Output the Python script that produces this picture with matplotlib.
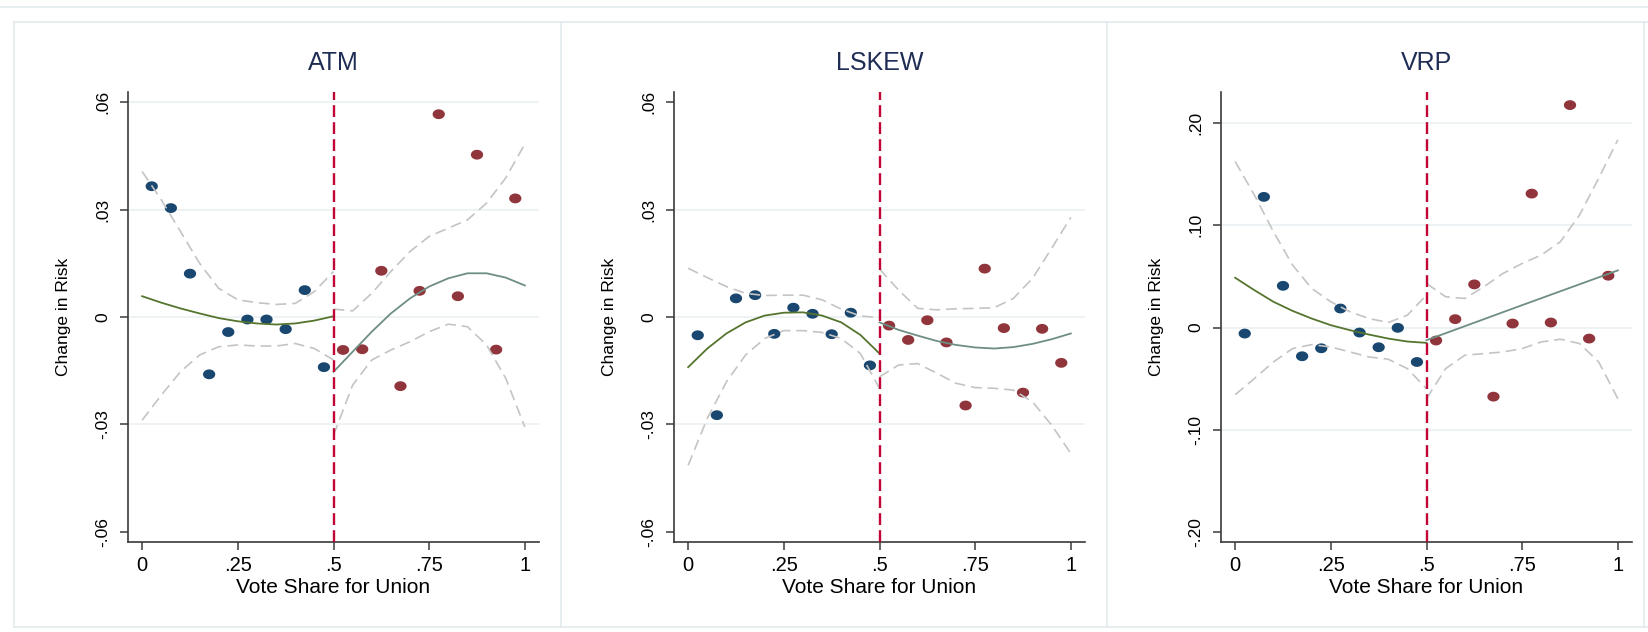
import numpy as np
import matplotlib.pyplot as plt
from matplotlib.lines import Line2D

plt.rcParams['font.family'] = ['Liberation Sans', 'DejaVu Sans']

# ---- data ----
titles = ['ATM', 'LSKEW', 'VRP']

x_left = [0.025, 0.075, 0.125, 0.175, 0.225, 0.275, 0.325, 0.375, 0.425, 0.475]
x_right = [0.525, 0.575, 0.625, 0.675, 0.725, 0.775, 0.825, 0.875, 0.925, 0.975]

# fitted curve grid
g_left = [0.0, 0.05, 0.10, 0.15, 0.20, 0.25, 0.30, 0.35, 0.40, 0.45, 0.50]
g_right = [0.50, 0.55, 0.60, 0.65, 0.70, 0.75, 0.80, 0.85, 0.90, 0.95, 1.0]

# ATM
atm_left = [0.0365, 0.0304, 0.0121, -0.0160, -0.0042, -0.0007, -0.0007, -0.0034, 0.0075, -0.0140]
atm_right = [-0.0092, -0.0090, 0.0129, -0.0193, 0.0073, 0.0566, 0.0058, 0.0453, -0.0091, 0.0331]
atm_fit_l = [0.0058, 0.0040, 0.0024, 0.0010, -0.0003, -0.0012, -0.0018, -0.0021, -0.0018, -0.0010, 0.0002]
atm_hi_l = [0.0406, 0.0327, 0.0239, 0.0150, 0.0080, 0.0048, 0.0040, 0.0035, 0.0038, 0.0071, 0.0127]
atm_lo_l = [-0.0288, -0.0218, -0.0153, -0.0106, -0.0083, -0.0078, -0.0081, -0.0081, -0.0074, -0.0088, -0.0120]
atm_fit_r = [-0.0153, -0.0097, -0.0041, 0.0010, 0.0052, 0.0085, 0.0108, 0.0122, 0.0122, 0.0110, 0.0088]
atm_hi_r = [0.0022, 0.0017, 0.0066, 0.0127, 0.0183, 0.0225, 0.0248, 0.0271, 0.0318, 0.0388, 0.0483]
atm_lo_r = [-0.0330, -0.0190, -0.0120, -0.0092, -0.0069, -0.0041, -0.0020, -0.0027, -0.0078, -0.0171, -0.0307]

# LSKEW
lsk_left = [-0.0051, -0.0274, 0.0052, 0.0061, -0.0047, 0.0026, 0.0009, -0.0048, 0.0012, -0.0135]
lsk_right = [-0.0024, -0.0064, -0.0009, -0.0071, -0.0247, 0.0135, -0.0031, -0.0211, -0.0033, -0.0128]
lsk_fit_l = [-0.0140, -0.0088, -0.0046, -0.0015, 0.0004, 0.0012, 0.0013, 0.0004, -0.0015, -0.0050, -0.0102]
lsk_hi_l = [0.0136, 0.0110, 0.0085, 0.0066, 0.0060, 0.0061, 0.0061, 0.0048, 0.0022, 0.0003, -0.0002]
lsk_lo_l = [-0.0414, -0.0283, -0.0181, -0.0106, -0.0060, -0.0038, -0.0038, -0.0043, -0.0060, -0.0102, -0.0199]
lsk_fit_r = [-0.0015, -0.0036, -0.0052, -0.0067, -0.0078, -0.0085, -0.0088, -0.0084, -0.0075, -0.0062, -0.0046]
lsk_hi_r = [0.0134, 0.0075, 0.0024, 0.0020, 0.0023, 0.0024, 0.0026, 0.0052, 0.0108, 0.0192, 0.0278]
lsk_lo_r = [-0.0167, -0.0134, -0.0130, -0.0157, -0.0185, -0.0197, -0.0199, -0.0204, -0.0237, -0.0302, -0.0381]

# VRP
vrp_left = [-0.0059, 0.1278, 0.0408, -0.0281, -0.0203, 0.0186, -0.0049, -0.0193, -0.0003, -0.0337]
vrp_right = [-0.0127, 0.0082, 0.0422, -0.0676, 0.0039, 0.1310, 0.0049, 0.2176, -0.0108, 0.0507]
vrp_fit_l = [0.0487, 0.0366, 0.0252, 0.0163, 0.0088, 0.0023, -0.0026, -0.0069, -0.0108, -0.0137, -0.0150]
vrp_hi_l = [0.1624, 0.1297, 0.0938, 0.0611, 0.0382, 0.0252, 0.0154, 0.0088, 0.0049, 0.0121, 0.0317]
vrp_lo_l = [-0.0657, -0.0500, -0.0337, -0.0206, -0.0167, -0.0190, -0.0239, -0.0288, -0.0310, -0.0402, -0.0598]
vrp_fit_x = [0.50, 0.75, 1.0]
vrp_fit_r = [-0.0124, 0.0219, 0.0559]
vrp_hi_r = [0.0431, 0.0301, 0.0284, 0.0399, 0.0529, 0.0627, 0.0709, 0.0840, 0.1101, 0.1461, 0.1837]
vrp_lo_r = [-0.0696, -0.0402, -0.0271, -0.0255, -0.0239, -0.0206, -0.0141, -0.0114, -0.0157, -0.0337, -0.0696]

x_ticks = [0, 0.25, 0.5, 0.75, 1]
x_ticklabels = ['0', '.25', '.5', '.75', '1']
y_ticks_small = [-0.06, -0.03, 0, 0.03, 0.06]
y_ticklabels_small = ['-.06', '-.03', '0', '.03', '.06']
y_ticks_vrp = [-0.20, -0.10, 0, 0.10, 0.20]
y_ticklabels_vrp = ['-.20', '-.10', '0', '.10', '.20']

panels = [
    dict(title=titles[0], yl=atm_left, yr=atm_right,
         fl=atm_fit_l, hl=atm_hi_l, ll=atm_lo_l,
         fx=g_right, fr=atm_fit_r, hr=atm_hi_r, lr=atm_lo_r,
         yt=y_ticks_small, ytl=y_ticklabels_small, ylim=(-0.0628, 0.0628), nogrid=[0]),
    dict(title=titles[1], yl=lsk_left, yr=lsk_right,
         fl=lsk_fit_l, hl=lsk_hi_l, ll=lsk_lo_l,
         fx=g_right, fr=lsk_fit_r, hr=lsk_hi_r, lr=lsk_lo_r,
         yt=y_ticks_small, ytl=y_ticklabels_small, ylim=(-0.0628, 0.0628), nogrid=[0, 4]),
    dict(title=titles[2], yl=vrp_left, yr=vrp_right,
         fl=vrp_fit_l, hl=vrp_hi_l, ll=vrp_lo_l,
         fx=vrp_fit_x, fr=vrp_fit_r, hr=vrp_hi_r, lr=vrp_lo_r,
         yt=y_ticks_vrp, ytl=y_ticklabels_vrp, ylim=(-0.2098, 0.2304), nogrid=[0]),
]

# colors (Stata s2color-like)
NAVY = '#1a476f'
MAROON = '#90353b'
FOREST = '#55752f'
TEAL = '#6e8e84'
CRANBERRY = '#c10534'
CI_GRAY = '#c4c4c4'
GRID = '#e8eff1'
FRAME = '#e3ebee'
TITLE = '#1f2d55'

# slightly wide dot, like the stretched original
t = np.linspace(0, 2 * np.pi, 40)
dot = np.column_stack([1.25 * np.cos(t), np.sin(t)])

W, H = 1648, 632
fig = plt.figure(figsize=(W / 100, H / 100), dpi=100)

# panel frames (pixel positions)
def hline(y, x0, x1):
    fig.add_artist(Line2D([x0 / W, x1 / W], [1 - y / H, 1 - y / H],
                          transform=fig.transFigure, color=FRAME, lw=1.2))

def vline(x, y0, y1):
    fig.add_artist(Line2D([x / W, x / W], [1 - y0 / H, 1 - y1 / H],
                          transform=fig.transFigure, color=FRAME, lw=1.2))

hline(7, 0, W)
hline(22, 14, W)
hline(627, 14, W)
for xv in [14, 561, 1107, 1644]:
    vline(xv, 22, 627)

ax_lefts = [128, 674, 1221]
for p, left_px in zip(panels, ax_lefts):
    ax = fig.add_axes([left_px / W, (H - 542) / H, 411 / W, 450 / H])

    # scatter
    ax.scatter(x_left, p['yl'], s=78, marker=dot, color=NAVY, edgecolors='none', zorder=3)
    ax.scatter(x_right, p['yr'], s=78, marker=dot, color=MAROON, edgecolors='none', zorder=3)

    # confidence bands
    for xs, ys in [(g_left, p['hl']), (g_left, p['ll']), (g_right, p['hr']), (g_right, p['lr'])]:
        ln, = ax.plot(xs, ys, color=CI_GRAY, lw=1.2, zorder=4)
        ln.set_dashes((6.5, 3.5))

    # fitted curves
    ax.plot(g_left, p['fl'], color=FOREST, lw=1.3, zorder=5)
    ax.plot(p['fx'], p['fr'], color=TEAL, lw=1.3, zorder=5)

    # cutoff
    cut = ax.axvline(0.5, color=CRANBERRY, lw=1.7, zorder=6)
    cut.set_dashes((5, 2.2))

    ax.set_xlim(-0.037, 1.037)
    ax.set_ylim(*p['ylim'])
    ax.set_xticks(x_ticks)
    ax.set_xticklabels(x_ticklabels, fontsize=14.5)
    ax.set_yticks(p['yt'])
    ax.set_yticklabels(p['ytl'], fontsize=12.5, rotation=90, va='center')

    ax.grid(True, axis='y', color=GRID, lw=1.1)
    ax.set_axisbelow(True)
    gl = ax.yaxis.get_gridlines()
    for i in p['nogrid']:
        gl[i].set_visible(False)

    for s in ['top', 'right']:
        ax.spines[s].set_visible(False)
    for s in ['left', 'bottom']:
        ax.spines[s].set_color('#3a3a3a')
        ax.spines[s].set_linewidth(1.2)
    ax.tick_params(axis='both', color='#3a3a3a', width=1.1, length=6)
    ax.tick_params(axis='y', pad=7)
    ax.tick_params(axis='x', pad=4)

    ax.text(0.5, 1.064, p['title'], transform=ax.transAxes, ha='center', va='center',
            fontsize=18, color=TITLE)
    ax.text(-0.156, 0.5, 'Change in Risk', transform=ax.transAxes, rotation=90,
            ha='center', va='center', fontsize=12.5)
    ax.text(0.5, -0.102, 'Vote Share for Union', transform=ax.transAxes,
            ha='center', va='center', fontsize=15)

plt.savefig('out.png', dpi=100)
